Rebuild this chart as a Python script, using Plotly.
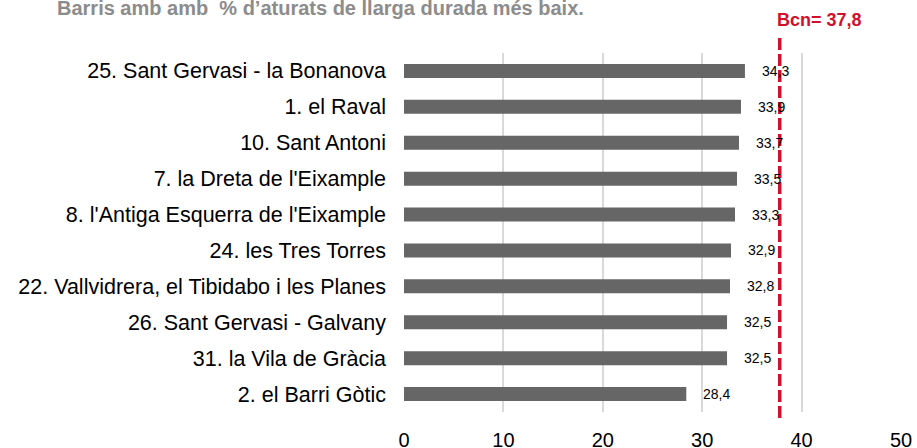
import plotly.graph_objects as go

categories = [
    "25. Sant Gervasi - la Bonanova",
    "1. el Raval",
    "10. Sant Antoni",
    "7. la Dreta de l'Eixample",
    "8. l'Antiga Esquerra de l'Eixample",
    "24. les Tres Torres",
    "22. Vallvidrera, el Tibidabo i les Planes",
    "26. Sant Gervasi - Galvany",
    "31. la Vila de Gràcia",
    "2. el Barri Gòtic",
]
values = [34.3, 33.9, 33.7, 33.5, 33.3, 32.9, 32.8, 32.5, 32.5, 28.4]
bcn_value = 37.8
x_ticks = [0, 10, 20, 30, 40, 50]
title_text = "Barris amb amb  % d\u2019aturats de llarga durada més baix."
bcn_label = "Bcn= 37,8"

FONT = "Liberation Sans, Arial, sans-serif"
RED = "#d0102c"

W, H = 917, 448
ml, mr, mt, mb = 404, 16, 53, 36
plot_h = H - mt - mb

def py(pix):
    return (H - mb - pix) / plot_h

fig = go.Figure()
fig.add_trace(go.Bar(
    y=categories, x=values, orientation="h",
    marker=dict(color="#666666", line=dict(width=0)),
    hoverinfo="skip",
))

for c, v in zip(categories, values):
    fig.add_annotation(
        x=v, y=c, xref="x", yref="y",
        text=f"{v:.1f}".replace(".", ","),
        showarrow=False, xanchor="left", yanchor="middle", xshift=15,
        font=dict(family=FONT, size=14, color="#000000"),
    )

fig.add_shape(type="line", xref="x", yref="paper",
              x0=bcn_value, x1=bcn_value, y0=py(418), y1=py(38),
              line=dict(color=RED, width=3.5, dash="12px,4px"), layer="above")

fig.add_annotation(
    x=bcn_value, y=py(20), xref="x", yref="paper",
    text=f"<b>{bcn_label}</b>", showarrow=False,
    xanchor="left", yanchor="middle", xshift=-5,
    font=dict(family=FONT, size=18, color=RED),
)

fig.add_annotation(
    x=55 / W, y=1 - 8 / H, xref="paper", yref="paper",
    text=f"<b>{title_text}</b>", showarrow=False,
    xanchor="left", yanchor="middle",
    font=dict(family=FONT, size=20, color="#8c8c8c"),
)

fig.update_layout(
    width=W, height=H,
    margin=dict(l=ml, r=mr, t=mt, b=mb, autoexpand=False),
    paper_bgcolor="white", plot_bgcolor="white",
    showlegend=False,
    bargap=0.61,
    xaxis=dict(range=[0, 50], tickvals=x_ticks, ticktext=[str(t) for t in x_ticks],
               showgrid=True, gridcolor="#d9d9d9", gridwidth=1.5,
               zeroline=False, showline=False, ticks="",
               tickfont=dict(family=FONT, size=20, color="#000000"),
               ticklabelstandoff=14, automargin=False, fixedrange=True),
    yaxis=dict(autorange="reversed", showgrid=False, zeroline=False, showline=False,
               ticks="", tickfont=dict(family=FONT, size=21.5, color="#000000"),
               ticklabelstandoff=17, automargin=False, fixedrange=True),
)

# fix annotation title y in paper coords (plot area based)
fig.layout.annotations[-1].update(xref="paper", x=(55 - ml) / (W - ml - mr), y=py(8))

fig.write_html("out.html", config={"displayModeBar": False},
               post_script="document.body.style.margin='0';document.body.style.overflow='hidden';")
